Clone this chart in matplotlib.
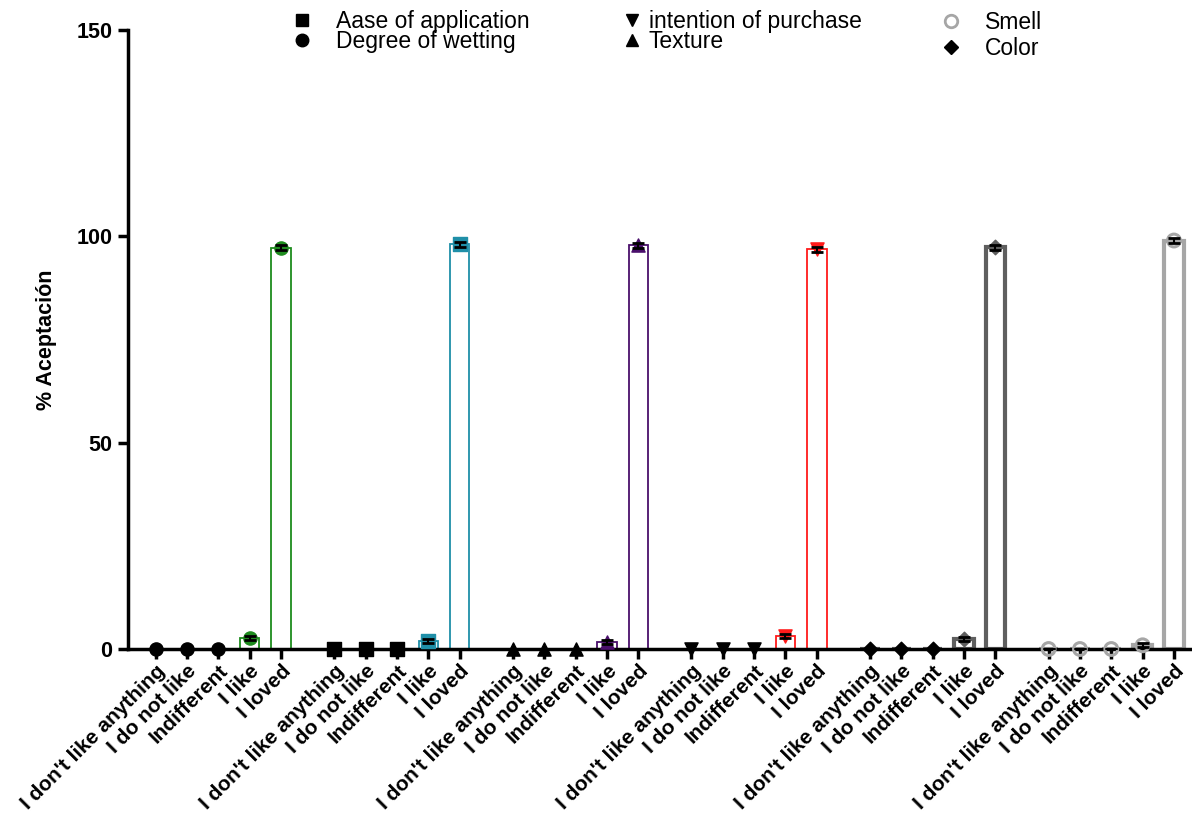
import numpy as np
import matplotlib.pyplot as plt
from matplotlib.lines import Line2D

plt.rcParams['font.family'] = ['Liberation Sans', 'DejaVu Sans']

# data
categories = ["I don't like anything", "I do not like", "Indifferent", "I like", "I loved"]
groups = ["Degree of wetting", "Aase of application", "Texture",
          "intention of purchase", "Color", "Smell"]
wetting = [0, 0, 0, 2.7, 97.3]
application = [0, 0, 0, 1.9, 98.1]
texture = [0, 0, 0, 1.7, 97.9]
purchase = [0, 0, 0, 3.1, 96.9]
color = [0, 0, 0, 2.4, 97.4]
smell = [0, 0, 0, 0.9, 99.0]
errors = [0, 0, 0, 0.5, 0.6]

series = [wetting, application, texture, purchase, color, smell]
bar_colors = ['#1e8c1e', '#1f8fa8', '#4a0f6b', '#ff1a1a', '#5f5f5f', '#a6a6a6']
markers = ['o', 's', '^', 'v', 'D', 'o']
lws = [1.3, 1.3, 1.3, 1.3, 3.0, 3.0]

fig = plt.figure(figsize=(11.92, 8.13), dpi=100)
ax = fig.add_axes([0.107, 0.2017, 0.891, 0.7613])

xs_all, labels_all = [], []
for g, vals in enumerate(series):
    x = g * 5.7 + np.arange(5)
    xs_all.extend(x)
    labels_all.extend(categories)
    col = bar_colors[g]
    ax.bar(x, vals, width=0.62, facecolor='white', edgecolor=col, linewidth=lws[g], zorder=2)
    ax.errorbar(x, vals, yerr=errors, fmt='none', ecolor='black', elinewidth=1.5,
                capsize=4, capthick=2, zorder=4)
    for xi, v in zip(x, vals):
        if g == 5:
            ax.scatter(xi, v, marker='o', s=85, facecolor='none', edgecolor=col,
                       linewidths=2.2, zorder=3, clip_on=False)
        else:
            c = col if v > 0 else 'black'
            ms = 90 if markers[g] != 'D' else 55
            ax.scatter(xi, v, marker=markers[g], s=ms, color=c, zorder=3, clip_on=False)

ax.set_xlim(-0.9, 33.0)
ax.set_ylim(0, 150)
ax.set_yticks([0, 50, 100, 150])
ax.set_xticks(xs_all)
ax.set_xticklabels(labels_all, rotation=45, ha='right', rotation_mode='anchor',
                   fontsize=15, fontweight='bold')
for lab in ax.get_yticklabels():
    lab.set_fontweight('bold')
    lab.set_fontsize(15.5)
ax.set_ylabel('% Aceptación', fontsize=15.5, fontweight='bold', labelpad=14)
ax.spines['top'].set_visible(False)
ax.spines['right'].set_visible(False)
ax.spines['left'].set_linewidth(2.5)
ax.spines['bottom'].set_linewidth(2.5)
ax.tick_params(axis='both', width=2.5, length=7)
ax.tick_params(axis='y', pad=4)
ax.tick_params(axis='x', pad=2)

def h(m, filled=True, c='black', size=9):
    if filled:
        return Line2D([], [], marker=m, linestyle='none', color=c, markersize=size)
    return Line2D([], [], marker=m, linestyle='none', markerfacecolor='none',
                  markeredgecolor=c, markeredgewidth=2, markersize=size)

leg_kw = dict(frameon=False, fontsize=16.5, borderaxespad=0, borderpad=0)
l1 = fig.legend([h('s'), h('o')], ['Aase of application', 'Degree of wetting'],
                loc='upper left', bbox_to_anchor=(0.234, 0.988),
                labelspacing=-0.1, handletextpad=0.5, handlelength=2, **leg_kw)
l2 = fig.legend([h('v'), h('^')], ['intention of purchase', 'Texture'],
                loc='upper left', bbox_to_anchor=(0.5206, 0.988),
                labelspacing=-0.1, handletextpad=0.24, handlelength=1, **leg_kw)
l3 = fig.legend([h('o', False, '#a6a6a6'), h('D', size=7)], ['Smell', 'Color'],
                loc='upper left', bbox_to_anchor=(0.779, 0.986),
                labelspacing=0.1, handletextpad=0.45, handlelength=2, **leg_kw)

fig.savefig('out.png', dpi=100)
